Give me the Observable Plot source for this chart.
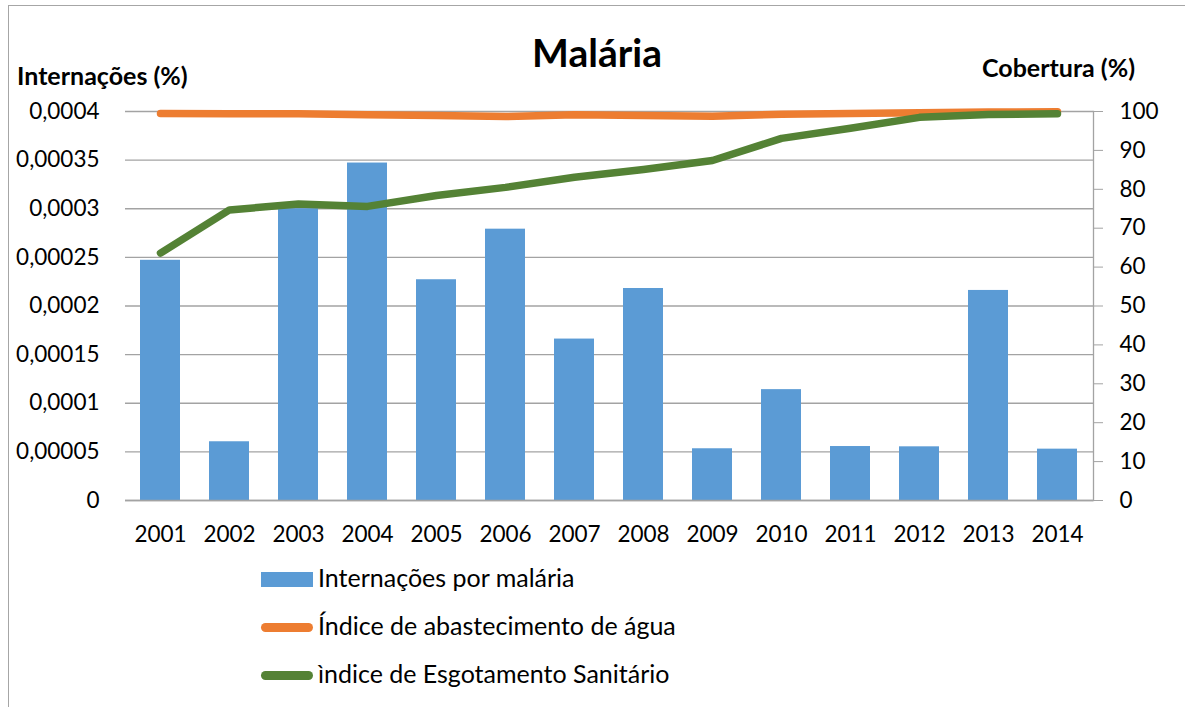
<!DOCTYPE html>
<html>
<head>
<meta charset="utf-8">
<script src="https://cdn.jsdelivr.net/npm/d3@7"></script>
<script src="https://cdn.jsdelivr.net/npm/@observablehq/plot@0.6"></script>
<style>
  body { margin: 0; background: #fff; }
  #wrap { position: relative; width: 1185px; height: 707px; overflow: hidden; background: #fff; font-family: Lato, sans-serif; color: #000; }
  .abs { position: absolute; white-space: nowrap; line-height: 1; }
  #border { position: absolute; left: 8px; top: 5px; width: 1300px; height: 800px; border-left: 1px solid #a6a6a6; border-top: 1px solid #a6a6a6; }
  .sw { position: absolute; }
</style>
</head>
<body>
<div id="wrap">
  <div id="border"></div>
  <div id="chart" class="abs" style="left:0;top:0"></div>
  <div class="abs" id="title" style="left:0;width:1194px;text-align:center;top:33px;font-size:39px;font-weight:bold">Malária</div>
  <div class="abs" id="ylab" style="left:17px;top:63px;font-size:25px;font-weight:bold">Internações (%)</div>
  <div class="abs" id="y2lab" style="left:982px;top:55px;font-size:25px;font-weight:bold">Cobertura (%)</div>
  <div id="legend"></div>
</div>
<script>
// ---- data ----
const years = ["2001","2002","2003","2004","2005","2006","2007","2008","2009","2010","2011","2012","2013","2014"];
const internacoes = [0.000247, 0.0000604, 0.0003, 0.000347, 0.000227, 0.000279, 0.000166, 0.000218, 0.0000532, 0.000114, 0.0000555, 0.0000552, 0.000216, 0.0000528];
const abastecimentoAgua = [99.5, 99.45, 99.4, 99.15, 98.95, 98.7, 99.15, 98.95, 98.8, 99.3, 99.5, 99.7, 99.85, 99.95];
const esgotamentoSanitario = [63.6, 74.7, 76.2, 75.6, 78.4, 80.5, 83.1, 85.1, 87.4, 93.1, 95.7, 98.5, 99.2, 99.4];
const leftTicks = [0, 0.00005, 0.0001, 0.00015, 0.0002, 0.00025, 0.0003, 0.00035, 0.0004];
const leftTickLabels = ["0", "0,00005", "0,0001", "0,00015", "0,0002", "0,00025", "0,0003", "0,00035", "0,0004"];
const rightTicks = [0, 10, 20, 30, 40, 50, 60, 70, 80, 90, 100];
const rightTickLabels = ["0", "10", "20", "30", "40", "50", "60", "70", "80", "90", "100"];
const seriesNames = ["Internações por malária", "Índice de abastecimento de água", "ìndice de Esgotamento Sanitário"];
const seriesColors = ["#5b9bd5", "#ed7d31", "#548235"];

// right axis (0–100) mapped onto the left scale (0–0.0004)
const k = 0.0004 / 100;
const table = years.map((y, i) => ({
  year: y,
  v: internacoes[i],
  agua: abastecimentoAgua[i] * k,
  esgoto: esgotamentoSanitario[i] * k
}));
const leftMap = new Map(leftTicks.map((t, i) => [t, leftTickLabels[i]]));
const rightVals = rightTicks.map(t => t * k);
const rightMap = new Map(rightVals.map((t, i) => [t, rightTickLabels[i]]));
const gridColor = "#a3a3a3";

const chart = Plot.plot({
  width: 1185,
  height: 560,
  marginTop: 111,
  marginBottom: 60,
  marginLeft: 125,
  marginRight: 92,
  style: { fontFamily: "Lato, sans-serif", fontSize: "22px", color: "#000", background: "transparent", overflow: "visible" },
  x: { type: "band", domain: years, paddingInner: 0.42, paddingOuter: 0.21, label: null },
  y: { domain: [0, 0.0004], label: null },
  marks: [
    Plot.gridY(leftTicks, { stroke: gridColor, strokeOpacity: 1, strokeWidth: 1.3 }),
    Plot.barY(table, { x: "year", y: "v", fill: seriesColors[0] }),
    Plot.ruleY([0], { stroke: gridColor, strokeWidth: 1.3 }),
    Plot.lineY(table, { x: "year", y: "agua", stroke: seriesColors[1], strokeWidth: 7.5, strokeLinecap: "round", strokeLinejoin: "round" }),
    Plot.lineY(table, { x: "year", y: "esgoto", stroke: seriesColors[2], strokeWidth: 7.5, strokeLinecap: "round", strokeLinejoin: "round" }),
    Plot.axisY(leftTicks, { anchor: "left", tickSize: 0, tickPadding: 26, tickFormat: d => leftMap.get(d), label: null, fontSize: 22.5 }),
    Plot.axisY(rightVals, { anchor: "right", tickSize: 9, tickPadding: 17, stroke: gridColor, tickFormat: d => rightMap.get(d), label: null, fontSize: 22.5 }),
    Plot.frame({ anchor: "right", stroke: gridColor, strokeWidth: 1.3 }),
    Plot.axisX(years, { tickSize: 0, tickPadding: 26, label: null, fontSize: 22.5 })
  ]
});
document.getElementById("chart").appendChild(chart);

// legend
const legend = document.getElementById("legend");
const legendTops = [565, 613, 661];
seriesNames.forEach((name, i) => {
  const top = legendTops[i];
  const sw = document.createElement("div");
  sw.className = "sw";
  if (i === 0) {
    Object.assign(sw.style, { left: "261px", top: (top + 7) + "px", width: "52px", height: "15px", background: seriesColors[i] });
  } else {
    Object.assign(sw.style, { left: "261px", top: (top + 10) + "px", width: "52px", height: "9px", background: seriesColors[i], borderRadius: "4.5px" });
  }
  legend.appendChild(sw);
  const t = document.createElement("div");
  t.className = "abs";
  Object.assign(t.style, { left: "318px", top: top + "px", fontSize: "25px" });
  t.textContent = name;
  legend.appendChild(t);
});
</script>
</body>
</html>
